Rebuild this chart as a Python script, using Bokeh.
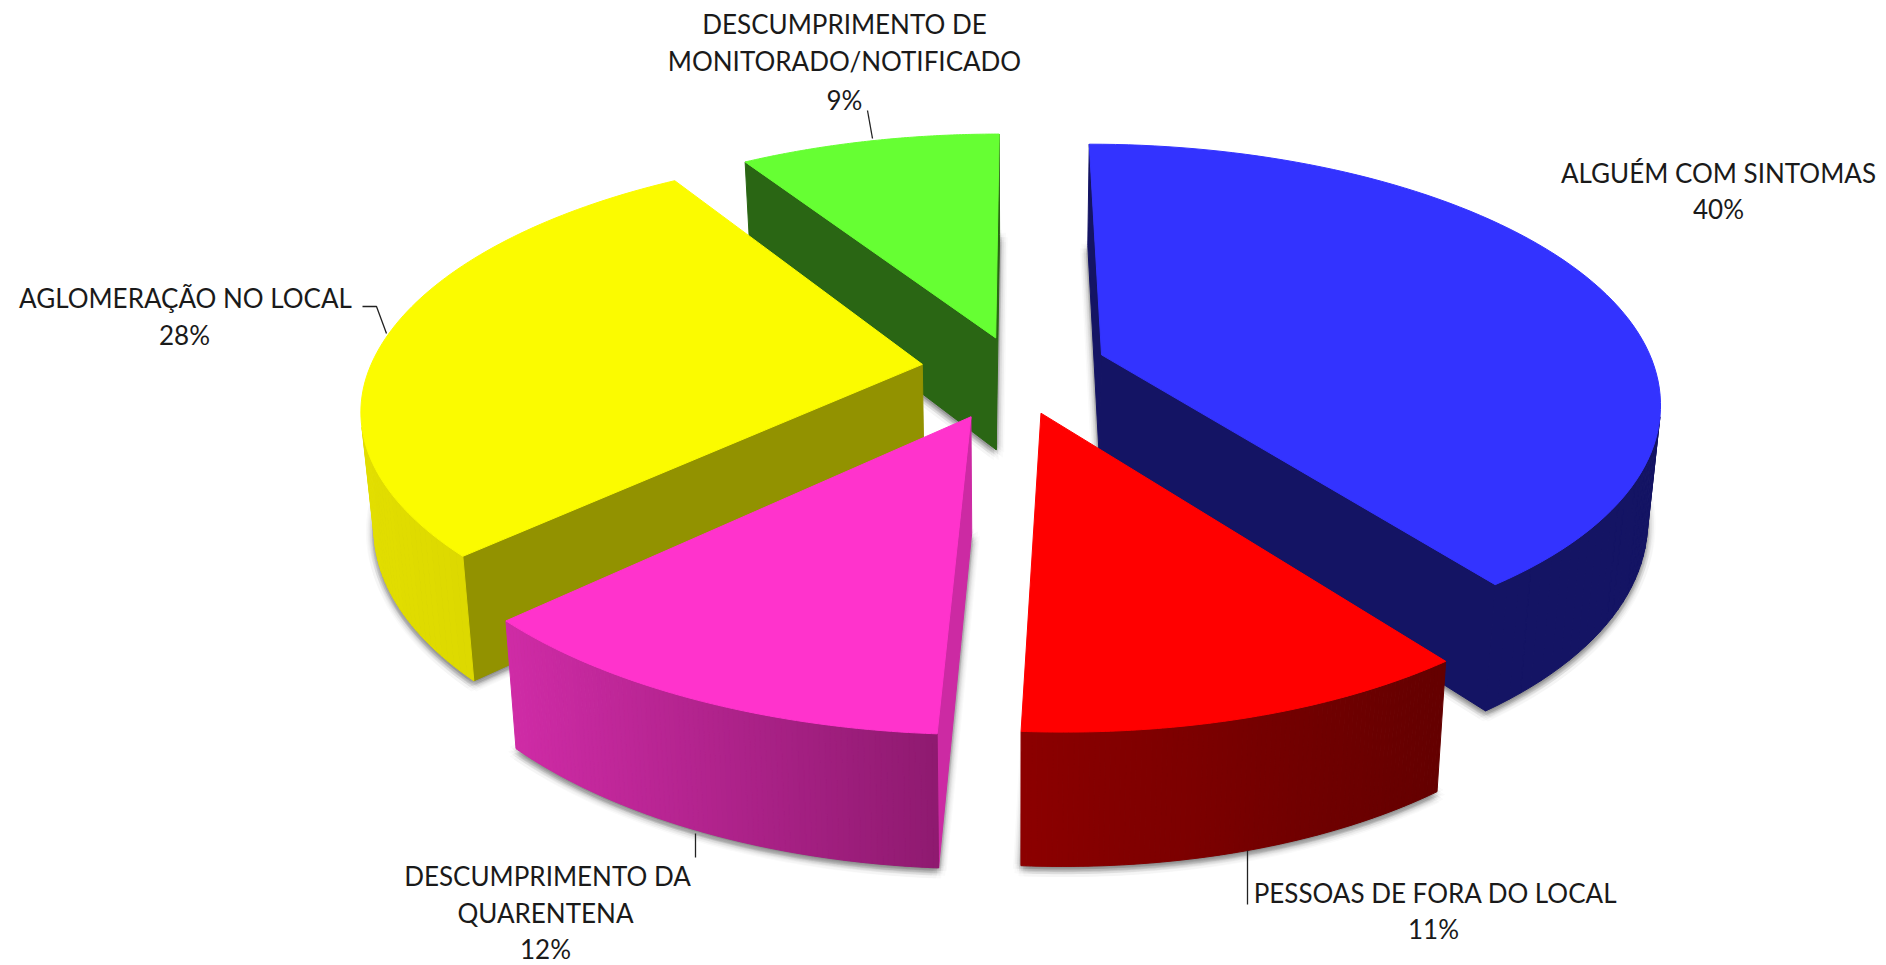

import math
from bokeh.plotting import figure
from bokeh.core.properties import value
from bokeh.embed import file_html
from bokeh.resources import INLINE

categories = ["ALGUÉM COM SINTOMAS", "PESSOAS DE FORA DO LOCAL", "DESCUMPRIMENTO DA QUARENTENA",
              "AGLOMERAÇÃO NO LOCAL", "DESCUMPRIMENTO DE MONITORADO/NOTIFICADO"]
values = [40, 11, 12, 28, 9]
top_colors = ["#3333ff", "#ff0000", "#ff33cc", "#fbfb00", "#66ff33"]
wall_colors = ["#141464", "#8c0000", "#cc2aa3", "#929200", "#2a6614"]
outer_left = ["#141464", "#8c0000", "#cf2ba6", "#e2de00", "#2a6614"]
outer_right = ["#141464", "#640000", "#8f1a70", "#d2ce00", "#2a6614"]
paint_order = [4, 3, 0, 2, 1]
nudge = [(3, -8), (2, -3), (-2, 3), (0, -6), (8, 1)]

label_lines = [
    ("ALGUÉM COM SINTOMAS", 1718, 172), ("40%", 1718, 208),
    ("AGLOMERAÇÃO NO LOCAL", 185, 297), ("28%", 184, 334),
    ("DESCUMPRIMENTO DE", 844, 23), ("MONITORADO/NOTIFICADO", 844, 60), ("9%", 844, 99),
    ("DESCUMPRIMENTO DA", 547, 875), ("QUARENTENA", 545, 912), ("12%", 545, 948),
    ("PESSOAS DE FORA DO LOCAL", 1435, 892), ("11%", 1433, 928),
]
leaders_x = [[867, 872], [1247, 1247], [695, 695], [362, 376, 386]]
leaders_y = [[110, 138], [850, 904], [833, 857], [306, 306, 333]]

CX, CY, A, B, H, P, EXPLODE = 1012, 375, 553, 250, 114, 0.168, 0.165
BOTTOM_SCALE = 0.98
NEAR_SHEAR = 13.5


def project(X, Y, bottom=False):
    w = 1 + P * Y
    sx = CX + A * X / w + NEAR_SHEAR * max(0.0, -Y) ** 2
    sy = CY - B * Y / w
    if bottom:
        sx = CX + (sx - CX) * BOTTOM_SCALE
        sy = CY + (sy - CY) * BOTTOM_SCALE + H / w
    return sx, sy


def hexrgb(c):
    return [int(c[i:i + 2], 16) for i in (1, 3, 5)]


def mix(a, b, t):
    ca, cb = hexrgb(a), hexrgb(b)
    return "#%02x%02x%02x" % tuple(round(u + (v - u) * t) for u, v in zip(ca, cb))


def area(pts):
    return sum(pts[i][0] * pts[(i + 1) % len(pts)][1] - pts[(i + 1) % len(pts)][0] * pts[i][1]
               for i in range(len(pts)))


total = sum(values)
angles = []
acc = 0.0
for v in values:
    a0 = acc / total * 2 * math.pi
    acc += v
    angles.append((a0, acc / total * 2 * math.pi))

p = figure(width=1886, height=965, x_range=(0, 1886), y_range=(965, 0),
           output_backend="svg", toolbar_location=None, min_border=0)
p.axis.visible = False
p.grid.visible = False
p.outline_line_color = None
p.background_fill_color = "white"
p.border_fill_color = "white"

N = 90
for idx in paint_order:
    a0, a1 = angles[idx]
    mid = (a0 + a1) / 2
    ox, oy = EXPLODE * math.sin(mid), EXPLODE * math.cos(mid)
    nx, ny = nudge[idx]
    thetas = [a0 + (a1 - a0) * i / N for i in range(N + 1)]
    rim = [(ox + math.sin(t), oy + math.cos(t)) for t in thetas]

    def shift(q):
        return (q[0] + nx, q[1] + ny)

    top = [shift(project(*q)) for q in rim]
    bot = [shift(project(*q, bottom=True)) for q in rim]
    apex_t, apex_b = shift(project(ox, oy)), shift(project(ox, oy, bottom=True))

    # soft shadow: bottom face smeared around
    base = [apex_b] + bot
    for r, n, al in [(8, 10, 0.022), (5, 10, 0.035), (2.5, 8, 0.05)]:
        for k in range(n):
            dx = r * math.cos(2 * math.pi * k / n)
            dy = r * math.sin(2 * math.pi * k / n) + 3
            p.patch([q[0] + dx for q in base], [q[1] + dy for q in base],
                    fill_color="#303030", fill_alpha=al, line_color=None)

    xs, ys, cs = [], [], []
    for pts, sign in (([apex_t, top[0], bot[0], apex_b], -1), ([apex_t, top[-1], bot[-1], apex_b], 1)):
        if area(pts) * sign > 0:
            xs.append([q[0] for q in pts])
            ys.append([q[1] for q in pts])
            cs.append(wall_colors[idx])
    xl, xr = min(q[0] for q in top), max(q[0] for q in top)
    for i in range(N):
        pts = [top[i], top[i + 1], bot[i + 1], bot[i]]
        if area(pts) < 0:
            xs.append([q[0] for q in pts])
            ys.append([q[1] for q in pts])
            t = ((top[i][0] + top[i + 1][0]) / 2 - xl) / (xr - xl)
            cs.append(mix(outer_left[idx], outer_right[idx], t))
    if xs:
        p.patches(xs, ys, fill_color=cs, line_color=cs, line_width=1)
    poly = [apex_t] + top
    p.patch([q[0] for q in poly], [q[1] for q in poly], fill_color=top_colors[idx],
            line_color=top_colors[idx], line_width=1)

p.multi_line(leaders_x, leaders_y, line_color="#222222", line_width=1.3)
p.text([l[1] for l in label_lines], [l[2] for l in label_lines], text=[l[0] for l in label_lines],
       text_font=value("Lato"), text_font_size="26px", text_color="#1a1a1a",
       text_align="center", text_baseline="middle")

open("out.html", "w").write(file_html(p, INLINE))
